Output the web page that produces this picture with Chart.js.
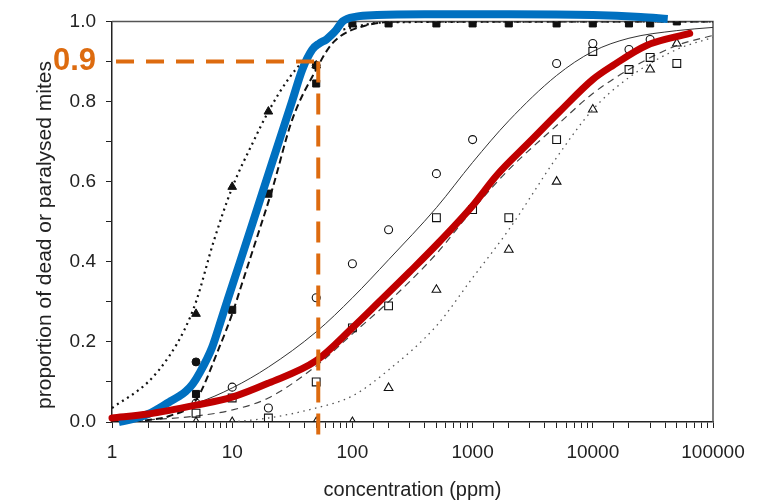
<!DOCTYPE html>
<html>
<head>
<meta charset="utf-8">
<script src="https://cdn.jsdelivr.net/npm/chart.js@4.4.1/dist/chart.umd.min.js"></script>
<style>
  html, body { margin: 0; padding: 0; background: #ffffff; }
  canvas { display: block; }
</style>
</head>
<body>
<canvas id="c" width="760" height="502"></canvas>
<script>
// ---------- DATA ----------
const xTickLabels = ['1', '10', '100', '1000', '10000', '100000'];
const yTickLabels = ['0.0', '0.2', '0.4', '0.6', '0.8', '1.0'];
const highlightLabel = '0.9';
const thresholdY = [0.9];           // orange horizontal guide level
const thresholdX = [1.08, 48];      // its extent (ppm)
const guideX = [52];                // orange vertical guide (ppm)
const guideY = [0.9, -0.035];       // its extent

// overlay fitted curves
const blueCurve = [[1.14,0],[1.5,0.008],[2,0.02],[3,0.05],[3.6,0.064],[4.1,0.076],[4.7,0.095],[5.3,0.12],[6.8,0.186],[8.25,0.263],[10,0.34],[14.7,0.494],[21.5,0.648],[31.6,0.802],[38.3,0.88],[46.4,0.93],[53,0.945],[60.8,0.955],[68,0.968],[73,0.978],[83,1.0],[108,1.012],[160,1.016],[400,1.018],[2000,1.018],[10000,1.016],[25000,1.011],[42000,1.006]];
const redCurve = [[1,0.01],[2,0.02],[5,0.042],[10,0.062],[20,0.097],[50,0.153],[100,0.235],[167,0.3],[300,0.375],[530,0.45],[1000,0.54],[1590,0.616],[3000,0.7],[5300,0.775],[10000,0.855],[14700,0.89],[28000,0.94],[64000,0.97]];

// original black curves
const filledDottedCurve = [[1,0.035],[2,0.1],[3,0.165],[4,0.23],[5,0.3],[7,0.45],[10,0.585],[15,0.7],[20,0.775],[30,0.86],[50,0.935],[70,0.97],[100,0.985],[200,0.998],[100000,1.0]];
const filledDashedCurve = [[1,0.0],[2,0.005],[3,0.015],[5,0.055],[7.8,0.186],[10,0.27],[12.2,0.35],[14.7,0.425],[21.5,0.58],[31.6,0.755],[50,0.88],[68,0.945],[130,0.99],[300,1.0],[100000,1.0]];
const openSolidCurve = [[1,0.01],[2,0.022],[5,0.047],[10,0.085],[20,0.137],[50,0.225],[100,0.31],[200,0.405],[500,0.535],[1000,0.648],[2000,0.752],[5000,0.865],[10000,0.925],[20000,0.958],[50000,0.977],[100000,0.985]];
const openDashedCurve = [[1,0.0],[5,0.015],[10,0.03],[20,0.06],[50,0.14],[100,0.22],[200,0.3],[500,0.42],[1000,0.53],[2000,0.63],[5000,0.74],[10000,0.82],[20000,0.88],[50000,0.94],[100000,0.965]];
const openDottedCurve = [[10,0.0],[20,0.01],[50,0.035],[100,0.065],[200,0.13],[500,0.24],[1000,0.36],[2000,0.48],[5000,0.66],[10000,0.78],[20000,0.86],[50000,0.93],[100000,0.96]];

// observed points
const filledTriangles = [[5,0.27],[10,0.587],[20,0.775],[50,0.89]];
const filledCircles = [[5,0.15],[50,0.89]];
const filledSquares = [[5,0.07],[10,0.28],[20,0.57],[50,0.845],[100,0.995],[200,0.995],[500,0.995],[1000,0.995],[2000,0.995],[5000,0.995],[10000,0.995],[20000,0.995],[30000,0.995],[50000,1.0]];
const openCircles = [[5,0.047],[10,0.087],[20,0.035],[50,0.31],[100,0.395],[200,0.48],[500,0.62],[1000,0.705],[5000,0.895],[10000,0.945],[20000,0.93],[30000,0.955]];
const openSquares = [[5,0.022],[10,0.06],[20,0.01],[50,0.1],[100,0.235],[200,0.29],[500,0.51],[1000,0.53],[2000,0.51],[5000,0.705],[10000,0.925],[20000,0.88],[30000,0.91],[50000,0.895]];
const openTriangles = [[5,0],[10,0],[50,0],[100,0],[200,0.085],[500,0.33],[2000,0.43],[5000,0.6],[10000,0.78],[30000,0.88],[50000,0.945]];

// ---------- helpers ----------
const FONT = "'Liberation Sans', Arial, Helvetica, sans-serif";
const ORANGE = '#DD6B0F';
const pts = arr => arr.map(p => ({ x: p[0], y: p[1] }));
const lineDs = (data, color, width, dash, extra) => Object.assign({
  data: pts(data), showLine: true, borderColor: color, borderWidth: width,
  borderDash: dash || [], pointRadius: 0, pointHoverRadius: 0, fill: false,
  cubicInterpolationMode: 'monotone', backgroundColor: color
}, extra || {});
const markDs = (data, style, filled, radius) => ({
  data: pts(data), showLine: false, pointStyle: style, pointRadius: radius,
  pointHoverRadius: radius, borderWidth: filled ? 1 : 1.1,
  borderColor: '#111', backgroundColor: filled ? '#111' : 'rgba(0,0,0,0)'
});

const hGuide = [[thresholdX[0], thresholdY[0]], [thresholdX[1], thresholdY[0]]];
const vGuide = [[guideX[0], guideY[0]], [guideX[0], guideY[1]]];

// frame plugin (top and right border of the plot box)
const framePlugin = {
  id: 'frame',
  beforeDatasetsDraw(chart) {
    const a = chart.chartArea, ctx = chart.ctx;
    ctx.save();
    ctx.strokeStyle = '#555';
    ctx.lineWidth = 1.5;
    ctx.beginPath();
    ctx.moveTo(a.left, a.top); ctx.lineTo(a.right, a.top); ctx.lineTo(a.right, a.bottom);
    ctx.stroke();
    ctx.restore();
  }
};
// y-axis title drawn at its reference position
const yTitlePlugin = {
  id: 'ytitle',
  afterDraw(chart) {
    const ctx = chart.ctx;
    ctx.save();
    ctx.translate(45, 235);
    ctx.rotate(-Math.PI / 2);
    ctx.fillStyle = '#222';
    ctx.font = '21px ' + FONT;
    ctx.textAlign = 'center';
    ctx.textBaseline = 'middle';
    ctx.fillText('proportion of dead or paralysed mites', 0, 0);
    ctx.restore();
  }
};

const datasets = [
  lineDs(hGuide, ORANGE, 4, [18, 12], { clip: false, cubicInterpolationMode: 'default', tension: 0 }),
  lineDs(vGuide, ORANGE, 4, [21, 11], { clip: false, cubicInterpolationMode: 'default', tension: 0 }),
  lineDs(redCurve, '#C00000', 7, [], { clip: false, borderCapStyle: 'round' }),
  lineDs(blueCurve, '#0070C0', 8, [], { clip: false, borderCapStyle: 'butt', borderJoinStyle: 'round' }),
  markDs(filledTriangles, 'triangle', true, 5),
  markDs(filledCircles, 'circle', true, 4),
  markDs(filledSquares, 'rect', true, 5),
  markDs(openCircles, 'circle', false, 4),
  markDs(openSquares, 'rect', false, 5.5),
  markDs(openTriangles, 'triangle', false, 5),
  lineDs(filledDottedCurve, '#111', 2.2, [2, 4]),
  lineDs(filledDashedCurve, '#111', 2, [7, 4]),
  lineDs(openSolidCurve, '#333', 1, []),
  lineDs(openDashedCurve, '#444', 1.2, [7, 5]),
  lineDs(openDottedCurve, '#555', 1.3, [1.5, 4.5])
];

new Chart(document.getElementById('c'), {
  type: 'scatter',
  data: { datasets },
  plugins: [framePlugin, yTitlePlugin],
  options: {
    responsive: false,
    animation: false,
    events: [],
    layout: { padding: { left: 0, right: 47, top: 18, bottom: 0 } },
    plugins: { legend: { display: false }, tooltip: { enabled: false } },
    scales: {
      x: {
        type: 'logarithmic',
        min: 1, max: 100000,
        afterFit: s => { s.height = 80; },
        border: { display: true, color: '#222', width: 1.5 },
        grid: { display: true, drawOnChartArea: false, drawTicks: true, tickLength: 6, color: '#222', lineWidth: 1 },
        ticks: {
          autoSkip: false, maxRotation: 0, padding: 13, color: '#222',
          font: { family: FONT, size: 19 },
          callback: v => {
            const e = Math.log10(v);
            if (Math.abs(e - Math.round(e)) < 1e-9) return xTickLabels[Math.round(e)];
            return '';
          }
        },
        title: { display: true, text: 'concentration (ppm)', color: '#222', font: { family: FONT, size: 20 }, padding: { top: 0, bottom: 0 } }
      },
      y: {
        type: 'linear',
        min: 0, max: 1.0,
        afterFit: s => { s.width = 112; },
        afterBuildTicks: s => {
          s.ticks = [];
          for (let i = 0; i <= 10; i++) s.ticks.push({ value: i / 10 });
        },
        border: { display: true, color: '#222', width: 1.5 },
        grid: { display: true, drawOnChartArea: false, drawTicks: true, tickLength: 6, color: '#222', lineWidth: 1 },
        ticks: {
          autoSkip: false,
          padding: 10,
          color: ctx => (ctx.tick && Math.round(ctx.tick.value * 10) === 9) ? ORANGE : '#222',
          font: ctx => (ctx.tick && Math.round(ctx.tick.value * 10) === 9)
            ? { family: FONT, size: 31, weight: 'bold' }
            : { family: FONT, size: 19 },
          callback: v => {
            const r = Math.round(v * 10);
            if (r === 9) return highlightLabel;
            if (r % 2 === 0) return yTickLabels[r / 2];
            return '';
          }
        },
        title: { display: false }
      }
    }
  }
});
</script>
</body>
</html>
